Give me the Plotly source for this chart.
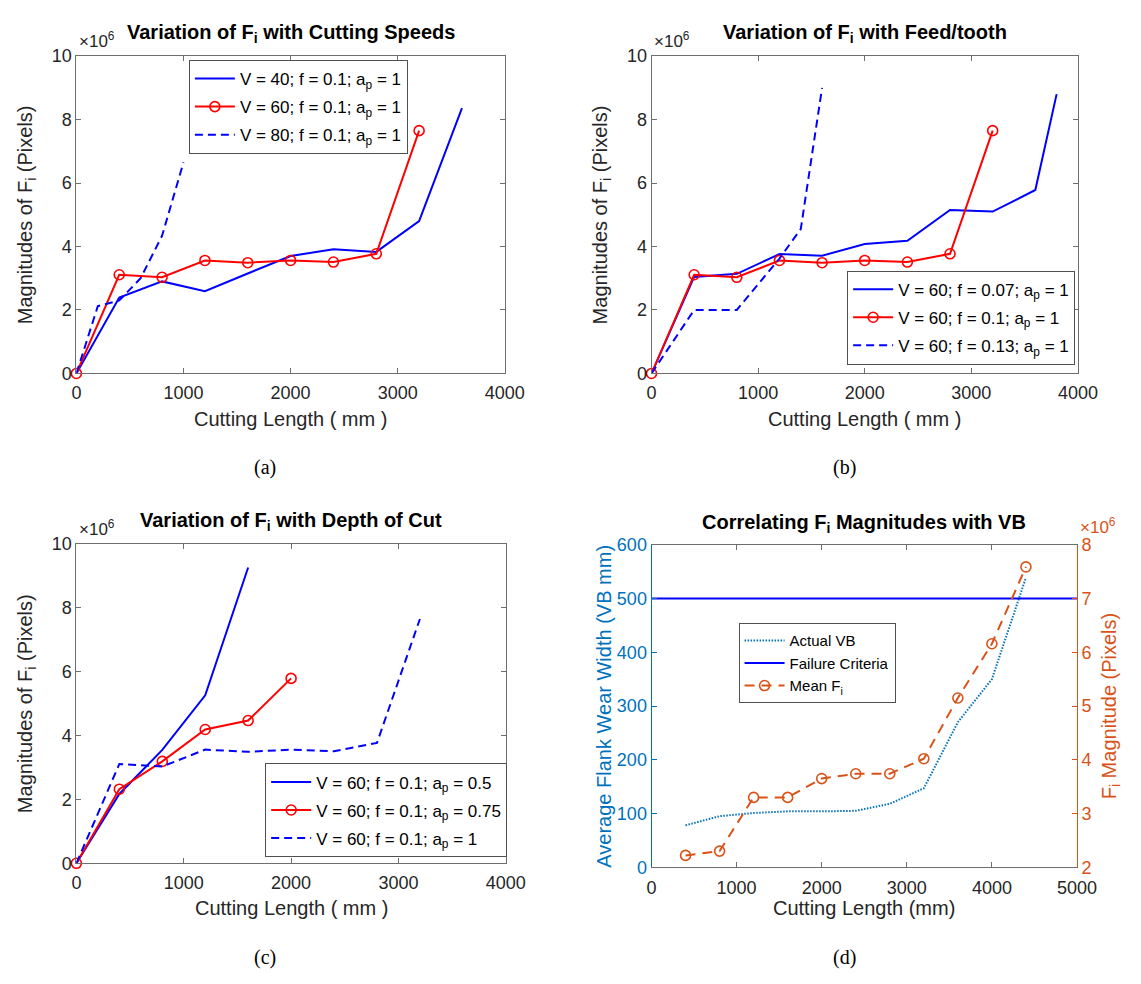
import plotly.graph_objects as go

W, H = 1141, 984

SANS = "Liberation Sans"
SERIF = "Liberation Serif"
TXT = "#262626"
AX = "#6e6e6e"
BLUE = "#0000FF"
RED = "#FF0000"
MBLUE = "#0072BD"
MORANGE = "#D95319"

# ---- data (F_i magnitudes in units of 10^6 pixels, cutting length in mm) ----
# V = 60; f = 0.1; a_p = 1 (shared reference condition)
len_ref = [0, 400, 800, 1200, 1600, 2000, 2400, 2800, 3200]
fi_ref = [0, 3.11, 3.03, 3.56, 3.49, 3.56, 3.51, 3.77, 7.65]

# (a) cutting speeds
len_v40 = [0, 400, 800, 1200, 1600, 2000, 2400, 2800, 3200, 3600]
fi_v40 = [0, 2.39, 2.90, 2.59, 3.15, 3.70, 3.91, 3.83, 4.80, 8.36]
len_v80 = [0, 200, 400, 600, 800, 1000]
fi_v80 = [0, 2.12, 2.30, 3.00, 4.34, 6.65]

# (b) feed per tooth
len_f007 = [0, 400, 800, 1200, 1600, 2000, 2400, 2800, 3200, 3600, 3800]
fi_f007 = [0, 3.04, 3.14, 3.76, 3.71, 4.08, 4.18, 5.15, 5.10, 5.78, 8.80]
len_f013 = [0, 400, 800, 1200, 1400, 1600]
fi_f013 = [0, 2.00, 2.00, 3.62, 4.55, 9.00]

# (c) depth of cut
len_ap05 = [0, 400, 800, 1200, 1600]
fi_ap05 = [0, 2.17, 3.55, 5.26, 9.26]
len_ap075 = [0, 400, 800, 1200, 1600, 2000]
fi_ap075 = [0, 2.32, 3.19, 4.19, 4.47, 5.79]

# (d) flank wear vs mean F_i
len_vb = [400, 800, 1200, 1600, 2000, 2400, 2800, 3200, 3600, 4000, 4400]
vb_actual = [78, 95, 101, 104, 104, 105, 118, 147, 270, 350, 539]
fi_mean = [2.22, 2.30, 3.30, 3.30, 3.65, 3.74, 3.74, 4.02, 5.15, 6.16, 7.59]
len_fail = [0, 5000]
vb_fail = [500, 500]

# tick labels
fi_ticks = [0, 2, 4, 6, 8, 10]
len_ticks_4k = [0, 1000, 2000, 3000, 4000]
len_ticks_5k = [0, 1000, 2000, 3000, 4000, 5000]
vb_ticks = [0, 100, 200, 300, 400, 500, 600]
fi_mean_ticks = [2, 3, 4, 5, 6, 7, 8]


def fx(px):
    """page x pixel -> paper fraction"""
    return px / W


def fy(py):
    """page y pixel -> paper fraction"""
    return 1 - py / H


# panel boxes in pixels: left, right, top, bottom
BOX = {
    "a": (73, 511, 47, 371),
    "b": (661, 1097, 47, 371),
    "c": (73, 512, 545, 871),
    "d": (661, 1096, 546, 875),
}

fig = go.Figure()


def line_trace(x, y, name, color, xa, ya, legend, dash="solid", marker=False, width=2):
    kw = dict(
        x=x, y=y, name=name, xaxis=xa, yaxis=ya, legend=legend,
        legendgroup=legend + name, cliponaxis=False,
        line=dict(color=color, width=width, dash=dash),
    )
    if marker:
        kw["mode"] = "lines+markers"
        kw["marker"] = dict(symbol="circle-open", size=10, color=color, line=dict(width=1.6, color=color))
    else:
        kw["mode"] = "lines"
    fig.add_trace(go.Scatter(**kw))


DASH = "8px,5px"

# (a)
line_trace(len_v40, fi_v40, "V = 40; f = 0.1; a<sub>p</sub> = 1", BLUE, "x", "y", "legend")
line_trace(len_ref, fi_ref, "V = 60; f = 0.1; a<sub>p</sub> = 1", RED, "x", "y", "legend", marker=True)
line_trace(len_v80, fi_v80, "V = 80; f = 0.1; a<sub>p</sub> = 1", BLUE, "x", "y", "legend", dash=DASH)

# (b)
line_trace(len_f007, fi_f007, "V = 60; f = 0.07; a<sub>p</sub> = 1", BLUE, "x2", "y2", "legend2")
line_trace(len_ref, fi_ref, "V = 60; f = 0.1; a<sub>p</sub> = 1", RED, "x2", "y2", "legend2", marker=True)
line_trace(len_f013, fi_f013, "V = 60; f = 0.13; a<sub>p</sub> = 1", BLUE, "x2", "y2", "legend2", dash=DASH)

# (c)
line_trace(len_ap05, fi_ap05, "V = 60; f = 0.1; a<sub>p</sub> = 0.5", BLUE, "x3", "y3", "legend3")
line_trace(len_ap075, fi_ap075, "V = 60; f = 0.1; a<sub>p</sub> = 0.75", RED, "x3", "y3", "legend3", marker=True)
line_trace(len_ref, fi_ref, "V = 60; f = 0.1; a<sub>p</sub> = 1", BLUE, "x3", "y3", "legend3", dash=DASH)

# (d)
line_trace(len_vb, vb_actual, "Actual VB", MBLUE, "x4", "y4", "legend4", dash="1.5px,1.5px", width=2)
line_trace(len_fail, vb_fail, "Failure Criteria", BLUE, "x4", "y4", "legend4", width=2)
line_trace(len_vb, fi_mean, "Mean F<sub>i</sub>", MORANGE, "x4", "y5", "legend4", dash="10px,7px", marker=True)

tickfont = dict(family=SANS, size=18, color=TXT)
base_axis = dict(
    showline=True, linecolor=AX, linewidth=1, mirror="ticks",
    ticks="inside", ticklen=5, tickcolor=AX, tickwidth=1,
    tickfont=tickfont, showgrid=False, zeroline=False, fixedrange=True,
)

layout_axes = {}
for i, key in enumerate(["a", "b", "c"], start=1):
    l, r, t, b = BOX[key]
    sx = "" if i == 1 else str(i)
    layout_axes["xaxis" + sx] = dict(
        base_axis, domain=[fx(l), fx(r)], anchor="y" + sx,
        range=[0, 4000], tickvals=len_ticks_4k, ticklabelstandoff=3,
    )
    layout_axes["yaxis" + sx] = dict(
        base_axis, domain=[fy(b), fy(t)], anchor="x" + sx,
        range=[0, 10], tickvals=fi_ticks,
    )

l, r, t, b = BOX["d"]
layout_axes["xaxis4"] = dict(
    base_axis, domain=[fx(l), fx(r)], anchor="y4",
    range=[0, 5000], tickvals=len_ticks_5k, ticklabelstandoff=4,
)
layout_axes["yaxis4"] = dict(
    base_axis, domain=[fy(b), fy(t)], anchor="x4", mirror=False,
    range=[0, 600], tickvals=vb_ticks, linecolor=MBLUE, tickcolor=MBLUE,
    tickfont=dict(family=SANS, size=18, color=MBLUE),
)
layout_axes["yaxis5"] = dict(
    base_axis, overlaying="y4", anchor="x4", side="right", mirror=False,
    range=[2, 8], tickvals=fi_mean_ticks, linecolor=MORANGE, tickcolor=MORANGE,
    tickfont=dict(family=SANS, size=18, color=MORANGE),
)

ann = []


def text(x, y, s, size=18, color=TXT, family=SANS, xanchor="center", yanchor="middle", angle=0):
    ann.append(dict(
        x=fx(x), y=fy(y), xref="paper", yref="paper", text=s, showarrow=False,
        xanchor=xanchor, yanchor=yanchor, textangle=angle,
        font=dict(family=family, size=size, color=color),
    ))


# titles
text(292, 24, "<b>Variation of F<sub>i</sub> with Cutting Speeds</b>", size=20, color="#000")
text(879, 24, "<b>Variation of F<sub>i</sub> with Feed/tooth</b>", size=20, color="#000")
text(292, 522, "<b>Variation of F<sub>i</sub> with Depth of Cut</b>", size=20, color="#000")
text(878, 524, "<b>Correlating F<sub>i</sub> Magnitudes with VB</b>", size=20, color="#000")

# axis titles and exponent labels
for key in ("a", "b", "c"):
    l, r, t, b = BOX[key]
    text((l + r) / 2, b + 46, "Cutting Length ( mm )", size=20)
    text(l - 51, (t + b) / 2, "Magnitudes of F<sub>i</sub> (Pixels)", size=20, angle=-90)
    text(l + 1, t - 3, "\u00d710<sup>6</sup>", size=17, xanchor="left", yanchor="bottom")

l, r, t, b = BOX["d"]
text((l + r) / 2, b + 42, "Cutting Length (mm)", size=20)
text(l - 49, (t + b) / 2, "Average Flank Wear Width (VB mm)", size=20, color=MBLUE, angle=-90)
text(r + 34, (t + b) / 2, "F<sub>i</sub> Magnitude (Pixels)", size=20, color=MORANGE, angle=-90)
text(r + 1, t - 6, "\u00d710<sup>6</sup>", size=17, color=MORANGE, xanchor="left", yanchor="bottom")

# sub-figure labels
text(266, 467, "(a)", size=20, color="#000", family=SERIF)
text(858, 467, "(b)", size=20, color="#000", family=SERIF)
text(266, 967, "(c)", size=20, color="#000", family=SERIF)
text(858, 967, "(d)", size=20, color="#000", family=SERIF)

leg_base = dict(
    xanchor="left", yanchor="top", bgcolor="white", bordercolor="#505050", borderwidth=1,
    font=dict(family=SANS, size=17, color="#000"), traceorder="grouped", tracegroupgap=3,
    itemwidth=40,
)

fig.update_layout(
    width=W, height=H,
    margin=dict(l=0, r=0, t=0, b=0),
    paper_bgcolor="white", plot_bgcolor="white",
    annotations=ann,
    legend=dict(leg_base, x=fx(188), y=fy(51)),
    legend2=dict(leg_base, x=fx(861), y=fy(266)),
    legend3=dict(leg_base, x=fx(266), y=fy(769)),
    legend4=dict(leg_base, x=fx(750), y=fy(626), font=dict(family=SANS, size=15, color="#000"), tracegroupgap=0),
    **layout_axes,
)

fig.write_html("out.html")
